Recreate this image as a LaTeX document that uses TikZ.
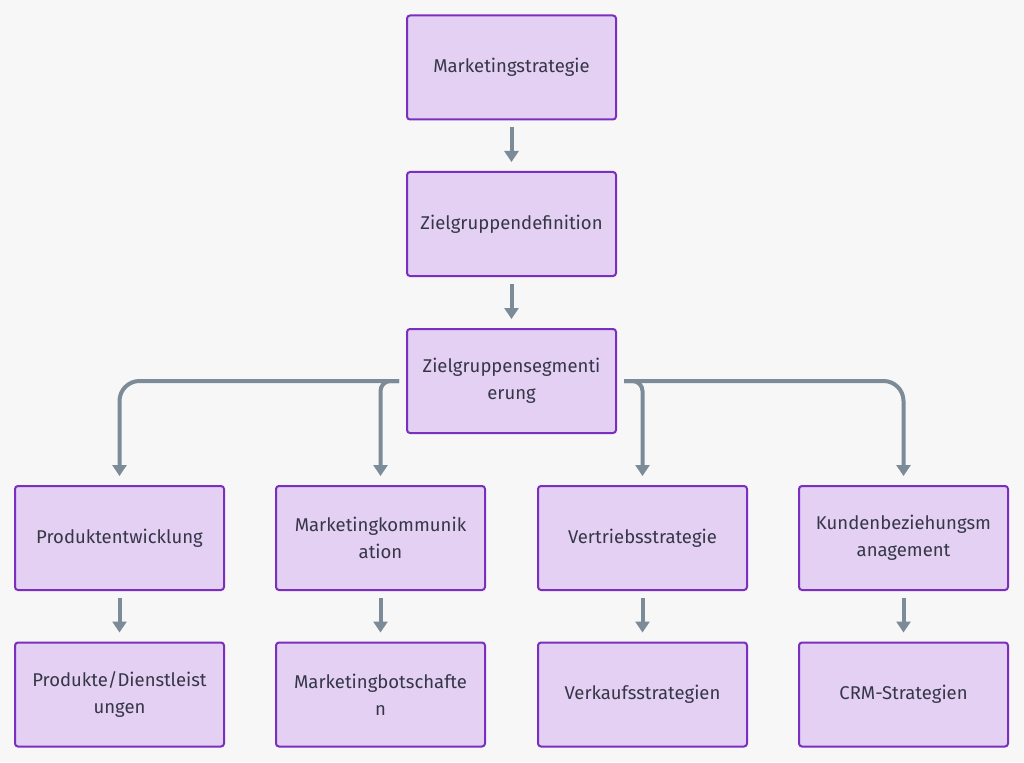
\documentclass[tikz,border=0pt]{standalone}
\usepackage{fontspec}
\setmainfont{Fira Sans}
\usetikzlibrary{arrows.meta,positioning}
\definecolor{bg}{HTML}{F7F7F7}
\definecolor{boxfill}{HTML}{E3D0F3}
\definecolor{boxline}{HTML}{7B2FBE}
\definecolor{conncol}{HTML}{7B8B97}
\definecolor{txt}{HTML}{363648}
\tikzset{
  stepbox/.style={draw=boxline, fill=boxfill, line width=2pt, rounded corners=3pt,
    minimum width=209pt, minimum height=104pt, inner sep=0pt, align=center,
    text=txt, font=\fontsize{18.5}{27}\selectfont},
  conn/.style={draw=conncol, line width=4pt, -{Triangle[width=14pt,length=11pt]}},
}
\begin{document}
\begin{tikzpicture}[x=1pt,y=-1pt]
\useasboundingbox[fill=bg] (0,0) rectangle (1024,762);
\node[stepbox] (ms) at (511.5,67.5) {Marketingstrategie};
\node[stepbox] (zd) at (511.5,224) {Zielgruppendefinition};
\node[stepbox] (zs) at (511.5,381) {Zielgruppensegmenti\\erung};
\node[stepbox] (pe) at (119.5,538) {Produktentwicklung};
\node[stepbox] (mk) at (380.5,538) {Marketingkommunik\\ation};
\node[stepbox] (vs) at (642.5,538) {Vertriebsstrategie};
\node[stepbox] (kb) at (903.5,538) {Kundenbeziehungsm\\anagement};
\node[stepbox] (pd) at (119.5,694.5) {Produkte/Dienstleist\\ungen};
\node[stepbox] (mb) at (380.5,694.5) {Marketingbotschafte\\n};
\node[stepbox] (vk) at (642.5,694.5) {Verkaufsstrategien};
\node[stepbox] (crm) at (903.5,694.5) {CRM-Strategien};
\draw[conn] ([yshift=-7pt]ms.south) -- ([yshift=9pt]zd.north);
\draw[conn] ([yshift=-7pt]zd.south) -- ([yshift=9pt]zs.north);
\draw[conn, rounded corners=20pt] ([xshift=-7pt]zs.west) -| ([yshift=9pt]pe.north);
\draw[conn, rounded corners=10pt] ([xshift=-7pt]zs.west) -| ([yshift=9pt]mk.north);
\draw[conn, rounded corners=10pt] ([xshift=7pt]zs.east) -| ([yshift=9pt]vs.north);
\draw[conn, rounded corners=20pt] ([xshift=7pt]zs.east) -| ([yshift=9pt]kb.north);
\draw[conn] ([yshift=-7pt]pe.south) -- ([yshift=9pt]pd.north);
\draw[conn] ([yshift=-7pt]mk.south) -- ([yshift=9pt]mb.north);
\draw[conn] ([yshift=-7pt]vs.south) -- ([yshift=9pt]vk.north);
\draw[conn] ([yshift=-7pt]kb.south) -- ([yshift=9pt]crm.north);
\end{tikzpicture}
\end{document}
